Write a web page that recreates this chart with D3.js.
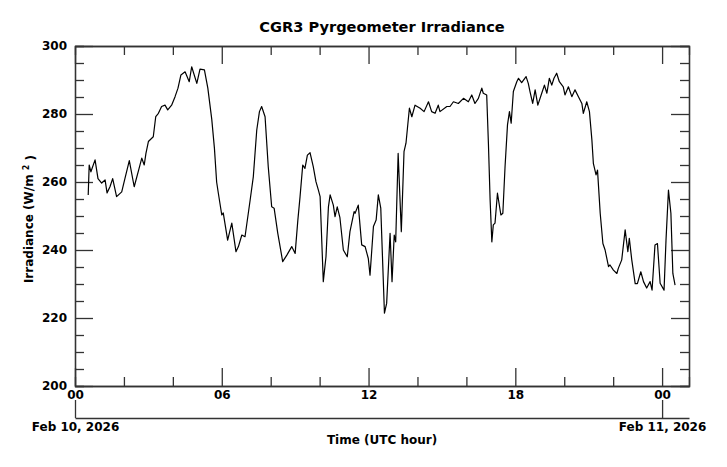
<!DOCTYPE html>
<html>
  <head>
    <meta charset="utf-8">
    <title>CGR3 Pyrgeometer Irradiance</title>
    <script src="https://d3js.org/d3.v7.min.js"></script>
    <style>
      body { margin: 0; background: #fff; }
      text { font-family: "DejaVu Sans", sans-serif; font-weight: bold; fill: #000; }
      .axis path, .axis line { stroke: #333; stroke-width: 1.3; }
    </style>
  </head>
  <body>
    <script>

      // hours since 00 UTC Feb 10, 2026
      var hours = [0.54, 0.58, 0.65, 0.82, 0.94, 1.09, 1.23, 1.31, 1.43, 1.54, 1.70, 1.91, 2.04, 2.22,
        2.42, 2.62, 2.73, 2.83, 2.90, 3.00, 3.20, 3.30, 3.41, 3.54, 3.68, 3.79, 3.95, 4.09, 4.21,
        4.33, 4.50, 4.67, 4.77, 4.98, 5.11, 5.29, 5.43, 5.59, 5.70, 5.79, 5.86, 6.00, 6.06, 6.24,
        6.41, 6.58, 6.68, 6.82, 6.95, 7.16, 7.29, 7.43, 7.54, 7.63, 7.77, 7.90, 8.04, 8.14, 8.29,
        8.49, 8.66, 8.86, 9.00, 9.11, 9.20, 9.31, 9.40, 9.50, 9.61, 9.74, 9.85, 9.95, 10.02, 10.15,
        10.26, 10.36, 10.43, 10.56, 10.63, 10.72, 10.83, 10.97, 11.13, 11.24, 11.41, 11.45, 11.58,
        11.72, 11.86, 11.99, 12.06, 12.20, 12.31, 12.40, 12.50, 12.65, 12.74, 12.88, 12.96, 13.05,
        13.11, 13.21, 13.34, 13.45, 13.53, 13.59, 13.67, 13.77, 13.90, 14.11, 14.27, 14.45, 14.58,
        14.72, 14.85, 14.92, 15.20, 15.33, 15.47, 15.67, 15.88, 16.08, 16.22, 16.35, 16.49, 16.63,
        16.69, 16.83, 16.90, 16.97, 17.04, 17.10, 17.17, 17.27, 17.41, 17.49, 17.58, 17.68, 17.76,
        17.83, 17.92, 18.06, 18.13, 18.26, 18.44, 18.53, 18.60, 18.71, 18.81, 18.92, 19.08, 19.19,
        19.29, 19.39, 19.49, 19.58, 19.69, 19.80, 19.96, 20.03, 20.17, 20.31, 20.44, 20.58, 20.72,
        20.78, 20.92, 21.03, 21.13, 21.19, 21.30, 21.36, 21.47, 21.58, 21.67, 21.81, 21.87, 22.01,
        22.15, 22.21, 22.35, 22.49, 22.60, 22.66, 22.76, 22.90, 22.99, 23.13, 23.24, 23.37, 23.51,
        23.59, 23.71, 23.81, 23.92, 24.08, 24.16, 24.26, 24.36, 24.44, 24.53];

      // irradiance, W/m^2
      var irradiance = [256.2, 265.0, 263.0, 266.5, 261.0, 259.7, 260.6, 256.8, 258.6, 261.0, 255.7,
        257.1, 261.0, 266.3, 258.6, 264.0, 267.0, 265.0, 268.4, 271.9, 273.3, 279.2, 280.2, 282.2,
        282.6, 281.2, 282.6, 285.1, 287.6, 291.5, 292.4, 289.5, 293.9, 289.0, 293.2, 293.0, 287.6,
        278.5, 269.9, 260.0, 256.7, 250.3, 250.9, 242.9, 247.9, 239.5, 241.0, 244.4, 243.9, 254.7,
        261.6, 275.3, 280.7, 282.2, 279.2, 264.5, 252.7, 252.3, 244.9, 236.6, 238.5, 241.0, 239.0,
        248.8, 255.7, 265.0, 264.0, 267.9, 268.6, 264.5, 260.1, 257.6, 255.7, 230.7, 238.0, 252.7,
        256.2, 253.2, 249.8, 252.7, 249.5, 240.0, 238.0, 245.4, 251.3, 250.8, 253.2, 241.5, 241.0,
        237.5, 232.6, 246.9, 248.8, 256.2, 252.3, 221.4, 224.3, 244.9, 230.7, 244.4, 242.4, 268.4,
        245.4, 268.9, 271.4, 275.8, 281.7, 279.2, 282.6, 281.7, 280.7, 283.6, 280.7, 280.2, 282.6,
        280.7, 282.2, 282.2, 283.6, 283.1, 284.6, 283.6, 285.6, 283.1, 284.6, 287.6, 286.1, 285.6,
        271.4, 254.7, 242.4, 247.4, 247.9, 256.7, 250.3, 250.8, 264.5, 276.8, 280.7, 277.3, 286.6,
        289.5, 290.5, 289.2, 291.0, 289.0, 286.6, 283.1, 287.1, 282.6, 286.1, 288.5, 286.1, 290.5,
        288.5, 290.5, 292.0, 289.5, 288.0, 285.6, 288.0, 285.1, 287.1, 285.1, 283.1, 280.2, 283.6,
        280.7, 272.4, 265.5, 262.1, 263.5, 250.8, 241.9, 240.0, 235.1, 235.6, 234.1, 233.1, 234.6,
        237.1, 245.9, 239.5, 243.4, 237.1, 230.1, 230.1, 233.6, 230.7, 228.8, 230.7, 228.2, 241.5,
        241.9, 230.2, 228.2, 242.9, 257.6, 250.8, 233.1, 229.7];

      var majorHours = [0, 6, 12, 18, 24];
      var minorHours = [2, 4, 8, 10, 14, 16, 20, 22];
      var majorValues = [200, 220, 240, 260, 280, 300];
      var minorValues = [205, 210, 215, 225, 230, 235, 245, 250, 255, 265, 270, 275, 285, 290, 295];
      var dateHours = [0, 24];
      var dateLabels = ["Feb 10, 2026", "Feb 11, 2026"];

      var plotLeft = 75, plotRight = 689, plotTop = 46, plotBottom = 386;

      var svg = d3.select("body").append("svg")
                  .attr("width", 727)
                  .attr("height", 467);

      var x = d3.scaleLinear().domain([0, 25.1]).range([plotLeft, plotRight]);
      var y = d3.scaleLinear().domain([200, 300]).range([plotBottom, plotTop]);

      function hourLabel(h) { return d3.format("02d")(h % 24); }

      // bottom axis with labels, plus minor ticks
      svg.append("g").attr("class", "axis")
         .attr("transform", "translate(0," + plotBottom + ")")
         .call(d3.axisBottom(x).tickValues(majorHours).tickFormat(hourLabel)
                 .tickSizeInner(-18).tickSizeOuter(0).tickPadding(4))
         .selectAll("text").style("font-size", "12px");
      svg.append("g").attr("class", "axis")
         .attr("transform", "translate(0," + plotBottom + ")")
         .call(d3.axisBottom(x).tickValues(minorHours).tickFormat("").tickSize(-9));

      // top axis, ticks only
      svg.append("g").attr("class", "axis")
         .attr("transform", "translate(0," + plotTop + ")")
         .call(d3.axisTop(x).tickValues(majorHours).tickFormat("").tickSizeInner(-18).tickSizeOuter(0));
      svg.append("g").attr("class", "axis")
         .attr("transform", "translate(0," + plotTop + ")")
         .call(d3.axisTop(x).tickValues(minorHours).tickFormat("").tickSize(-9));

      // left axis with labels
      svg.append("g").attr("class", "axis")
         .attr("transform", "translate(" + plotLeft + ",0)")
         .call(d3.axisLeft(y).tickValues(majorValues)
                 .tickSizeInner(-18).tickSizeOuter(0).tickPadding(8))
         .selectAll("text").style("font-size", "12px");
      svg.append("g").attr("class", "axis")
         .attr("transform", "translate(" + plotLeft + ",0)")
         .call(d3.axisLeft(y).tickValues(minorValues).tickFormat("").tickSize(-9));

      // right axis, ticks only
      svg.append("g").attr("class", "axis")
         .attr("transform", "translate(" + plotRight + ",0)")
         .call(d3.axisRight(y).tickValues(majorValues).tickFormat("").tickSizeInner(-18).tickSizeOuter(0));
      svg.append("g").attr("class", "axis")
         .attr("transform", "translate(" + plotRight + ",0)")
         .call(d3.axisRight(y).tickValues(minorValues).tickFormat("").tickSize(-9));

      // date axis below
      svg.append("g").attr("class", "axis")
         .attr("transform", "translate(0,418)")
         .call(d3.axisBottom(x).tickValues(dateHours)
                 .tickFormat(function(d, i) { return dateLabels[i]; })
                 .tickSizeInner(-18).tickSizeOuter(0).tickPadding(4))
         .selectAll("text").style("font-size", "12px");

      // data line
      var line = d3.line()
                   .x(function(d, i) { return x(hours[i]); })
                   .y(function(d) { return y(d); });

      svg.append("path")
         .datum(irradiance)
         .attr("fill", "none")
         .attr("stroke", "#000")
         .attr("stroke-width", 1.2)
         .attr("stroke-linejoin", "round")
         .attr("d", line);

      // titles
      svg.append("text")
         .attr("x", (plotLeft + plotRight) / 2).attr("y", 32)
         .attr("text-anchor", "middle")
         .style("font-size", "14.6px")
         .text("CGR3 Pyrgeometer Irradiance");

      svg.append("text")
         .attr("x", (plotLeft + plotRight) / 2).attr("y", 444)
         .attr("text-anchor", "middle")
         .style("font-size", "12px")
         .text("Time (UTC hour)");

      var ytitle = svg.append("text")
         .attr("transform", "translate(33,219) rotate(-90)")
         .attr("text-anchor", "middle")
         .style("font-size", "12px");
      ytitle.append("tspan").text("Irradiance (W/m ");
      ytitle.append("tspan").attr("dy", "-0.5em").style("font-size", "8px").text("2");
      ytitle.append("tspan").attr("dy", "0.5em").text(" )");

    </script>
  </body>
</html>
